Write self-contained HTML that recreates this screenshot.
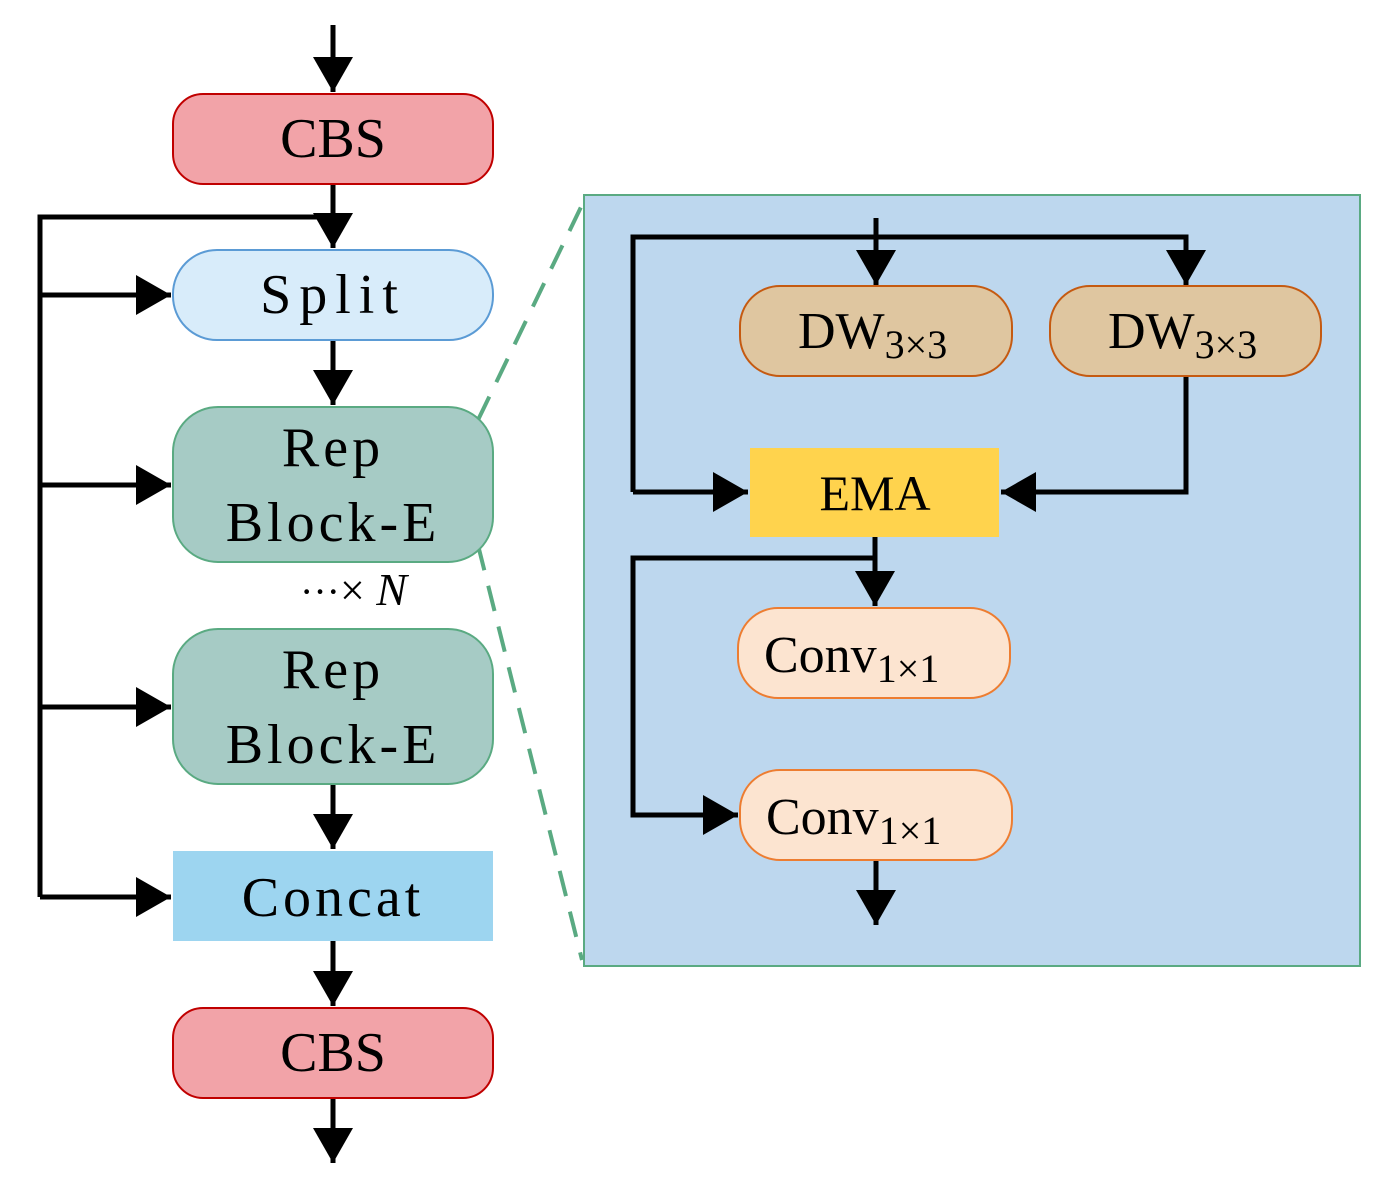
<!DOCTYPE html>
<html><head><meta charset="utf-8"><style>
html,body{margin:0;padding:0;background:#fff;}
svg{display:block;}
text{font-family:"Liberation Serif","Noto Serif CJK SC",serif;fill:#000;}
</style></head><body>
<svg width="1384" height="1196" viewBox="0 0 1384 1196" xmlns="http://www.w3.org/2000/svg">
<defs>
<marker id="a" markerWidth="8" markerHeight="8" refX="7" refY="4" orient="auto" markerUnits="strokeWidth">
<path d="M0,0 L7,4 L0,8 Z" fill="#000"/></marker>
</defs>
<rect x="584" y="195" width="776" height="771" fill="#bdd7ee" stroke="#5aaa82" stroke-width="2"/>
<line x1="478" y1="420" x2="582" y2="205" stroke="#5aaa82" stroke-width="4" stroke-dasharray="26,16"/>
<line x1="478" y1="545" x2="582" y2="960" stroke="#5aaa82" stroke-width="4" stroke-dasharray="26,16"/>
<g stroke="#000" stroke-width="5" fill="none">
<line x1="333" y1="25" x2="333" y2="92" marker-end="url(#a)"/>
<line x1="333" y1="184" x2="333" y2="248" marker-end="url(#a)"/>
<polyline points="333,217 40,217 40,897"/>
<line x1="40" y1="295" x2="171" y2="295" marker-end="url(#a)"/>
<line x1="40" y1="485" x2="171" y2="485" marker-end="url(#a)"/>
<line x1="40" y1="707" x2="171" y2="707" marker-end="url(#a)"/>
<line x1="40" y1="897" x2="171" y2="897" marker-end="url(#a)"/>
<line x1="333" y1="340" x2="333" y2="405" marker-end="url(#a)"/>
<line x1="333" y1="784" x2="333" y2="849" marker-end="url(#a)"/>
<line x1="333" y1="941" x2="333" y2="1006" marker-end="url(#a)"/>
<line x1="333" y1="1098" x2="333" y2="1163" marker-end="url(#a)"/>
<line x1="876" y1="218" x2="876" y2="285" marker-end="url(#a)"/>
<polyline points="633,492 633,237 1186,237 1186,285" marker-end="url(#a)"/>
<line x1="633" y1="492" x2="748" y2="492" marker-end="url(#a)"/>
<polyline points="1186,376 1186,492 1001,492" marker-end="url(#a)"/>
<line x1="875" y1="537" x2="875" y2="606" marker-end="url(#a)"/>
<polyline points="875,558 633,558 633,815 738,815" marker-end="url(#a)"/>
<line x1="876" y1="860" x2="876" y2="925" marker-end="url(#a)"/>
</g>
<rect x="173" y="94" width="320" height="90" rx="30" fill="#f2a3a8" stroke="#c00000" stroke-width="2"/>
<rect x="173" y="250" width="320" height="90" rx="44" fill="#d8ecfa" stroke="#5b9bd5" stroke-width="2"/>
<rect x="173" y="407" width="320" height="155" rx="45" fill="#a6cbc5" stroke="#5aaa82" stroke-width="2"/>
<rect x="173" y="629" width="320" height="155" rx="45" fill="#a6cbc5" stroke="#5aaa82" stroke-width="2"/>
<rect x="173" y="851" width="320" height="90" fill="#9dd5f0"/>
<rect x="173" y="1008" width="320" height="90" rx="30" fill="#f2a3a8" stroke="#c00000" stroke-width="2"/>
<rect x="740" y="286" width="272" height="90" rx="40" fill="#dfc6a0" stroke="#c55a11" stroke-width="2"/>
<rect x="1050" y="286" width="271" height="90" rx="40" fill="#dfc6a0" stroke="#c55a11" stroke-width="2"/>
<rect x="750" y="448" width="249" height="89" fill="#ffd34d"/>
<rect x="738" y="608" width="272" height="90" rx="40" fill="#fce4d0" stroke="#ed7d31" stroke-width="2"/>
<rect x="740" y="770" width="272" height="90" rx="40" fill="#fce4d0" stroke="#ed7d31" stroke-width="2"/>
<g font-size="56" text-anchor="middle">
<text x="333" y="157">CBS</text>
<text x="333" y="313" letter-spacing="8">Split</text>
<text x="333" y="466" letter-spacing="4">Rep</text>
<text x="333" y="541" letter-spacing="4">Block-E</text>
<text x="333" y="688" letter-spacing="4">Rep</text>
<text x="333" y="763" letter-spacing="4">Block-E</text>
<text x="333" y="916" letter-spacing="4">Concat</text>
<text x="333" y="1071">CBS</text>
<text x="875" y="510" font-size="50">EMA</text>
</g>
<text x="300" y="605" font-size="40">···<tspan font-size="44">×</tspan><tspan font-style="italic" font-size="46"> N</tspan></text>
<g font-size="52">
<text x="798" y="348">DW<tspan font-size="40" dy="10">3×3</tspan></text>
<text x="1108" y="348">DW<tspan font-size="40" dy="10">3×3</tspan></text>
<text x="764" y="672">Conv<tspan font-size="40" dy="10">1×1</tspan></text>
<text x="766" y="834">Conv<tspan font-size="40" dy="10">1×1</tspan></text>
</g>
</svg>
</body></html>
